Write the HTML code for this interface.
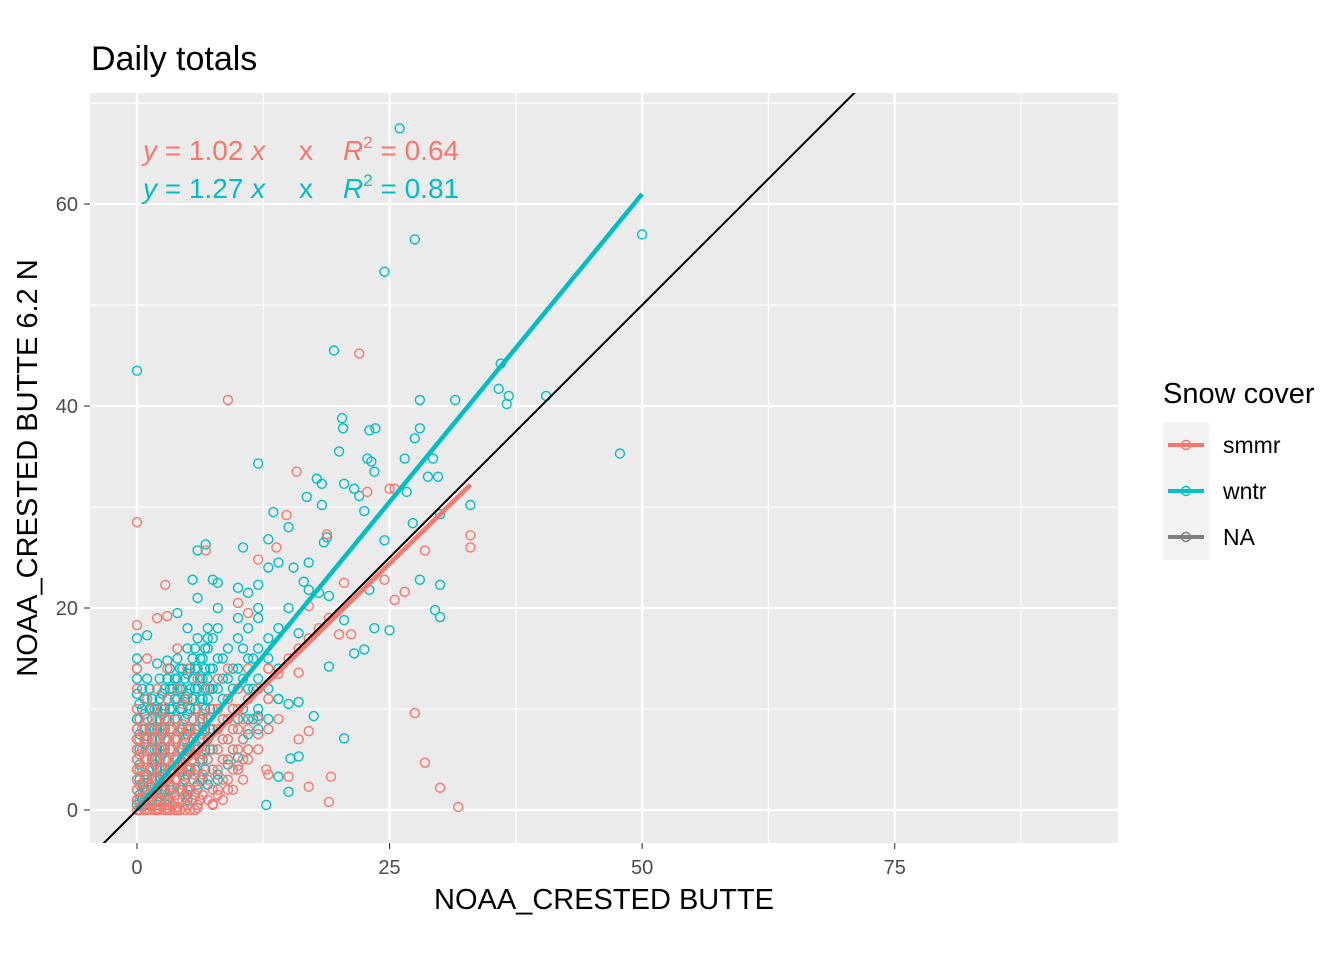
<!DOCTYPE html>
<html><head><meta charset="utf-8"><style>
html,body{margin:0;padding:0;background:#fff;}
svg{display:block;font-family:"Liberation Sans",sans-serif;}
</style></head><body>
<svg id="chart" width="1344" height="960">
<text x="91" y="70" font-size="34" fill="#000">Daily totals</text>
<rect x="90" y="93" width="1028" height="750" fill="#ebebeb"/>
<g id="grid"></g>
<g id="points"></g>
<g id="lines"></g>
<g id="ticks"></g>
<text x="604" y="909" font-size="29" text-anchor="middle">NOAA_CRESTED BUTTE</text>
<text transform="translate(37,468) rotate(-90)" font-size="29" text-anchor="middle">NOAA_CRESTED BUTTE 6.2 N</text>
<text x="143" y="160" font-size="28" fill="#f8766d"><tspan font-style="italic">y</tspan> = 1.02 <tspan font-style="italic">x</tspan><tspan x="299">x</tspan><tspan x="343" font-style="italic">R</tspan><tspan font-size="17" dy="-12">2</tspan><tspan dy="12"> = 0.64</tspan></text>
<text x="143" y="198" font-size="28" fill="#00bfc4"><tspan font-style="italic">y</tspan> = 1.27 <tspan font-style="italic">x</tspan><tspan x="299">x</tspan><tspan x="343" font-style="italic">R</tspan><tspan font-size="17" dy="-12">2</tspan><tspan dy="12"> = 0.81</tspan></text>
<g>
<text x="1163" y="403" font-size="29">Snow cover</text>
<rect x="1163" y="422" width="46" height="138" fill="#f2f2f2"/>
<g><line x1="1168" y1="445" x2="1204" y2="445" stroke="#f8766d" stroke-width="4"/><circle cx="1186" cy="445" r="4.5" fill="none" stroke="#f8766d" stroke-width="1.4"/><text x="1223" y="453" font-size="23">smmr</text></g>
<g><line x1="1168" y1="491" x2="1204" y2="491" stroke="#00bfc4" stroke-width="4"/><circle cx="1186" cy="491" r="4.5" fill="none" stroke="#00bfc4" stroke-width="1.4"/><text x="1223" y="499" font-size="23">wntr</text></g>
<g><line x1="1168" y1="537" x2="1204" y2="537" stroke="#7f7f7f" stroke-width="4"/><circle cx="1186" cy="537" r="4.5" fill="none" stroke="#7f7f7f" stroke-width="1.4"/><text x="1223" y="545" font-size="23">NA</text></g>
</g>
</svg>
<script>
const xTicks=[0,25,50,75];
const yTicks=[0,20,40,60];
const xMinor=[12.5,37.5,62.5,87.5];
const yMinor=[10,30,50,70];
const smmrOutliers=[[0,28.5],[0,18.3],[9,40.6],[22,45.2],[15.8,33.5],[2.8,22.3],[25.5,31.8],[25,31.8],[18.8,27.3],[14.8,29.2],[13.8,26],[6.8,25.7],[12,24.8],[33,27.2],[33,26],[28.5,25.7],[26.5,21.6],[25.5,20.8],[24.5,22.8],[20.5,22.5],[22.8,31.5],[20,17.4],[21.2,17.4],[17,20.2],[16,13.6],[17,7.8],[16,7],[27.5,9.6],[28.5,4.7],[30,2.2],[31.8,0.3],[19.2,3.3],[19,0.8],[17,2.3],[12.8,4],[13,3.5],[15,3.3],[10,4.4],[9,2],[8,1.5],[7.5,0.6],[6,0.2],[5,0.5],[4,0.3],[3,0.2],[2,0.1],[1,0],[2,19],[3,19.2],[4,16],[1,15],[10,20.5],[11,19.5],[13,14],[14,13.5],[15,15],[16,16],[17,17],[18,18],[19,19],[14,9],[12,7.5],[11,6]];
const smmrCluster=[[0,[0,1,2,3,4,5,6,7,8,10,12,14]],[0.5,[0.5,2,4,6,8]],[1,[0,1.5,3,5,7,9,11]],[1.5,[0.5,2,4,6,8,10]],[2,[0,1,3,5,7,9,12]],[2.5,[0.5,2,4,6,8,10]],[3,[0,1.5,3,5,7,9,11,14]],[3.5,[0.5,2,4,6,8]],[4,[0,1,3,5,7,9,12]],[4.5,[1,2.5,4.5,6.5,8.5,10.5]],[5,[0.5,2,4,6,8,11,14]],[5.5,[1,3,5,7,9]],[6,[0.5,2,4,6,8,10,13]],[6.5,[1.5,3.5,5.5,7.5,9.5]],[7,[1,3,5,7,9,12]],[8,[2,4,6,8,10,13]],[9,[3,5,7,9,11,14]],[10,[4,6,8,10,12]],[11,[5,8,11,14]],[12,[6,9,12]],[13,[8,11,14]]];
const smmrCluster2=[[0.25,[0,1,2.5,4,5.5,7,9]],[0.75,[0,1,3,5,7]],[1.25,[0,1,2.5,4,6,8]],[1.75,[0,1.5,3,5,7]],[2.25,[0,1,2.5,4,6,8]],[2.75,[0,1,3,5,7,9]],[3.25,[0,1,2.5,4,6,8]],[3.75,[0,1.5,3,5,7]],[4.25,[0,2,4,6,8]],[4.75,[0,1.5,3.5,5.5,7.5]],[5.25,[0,2,4,6,8]],[5.75,[0,1.5,3.5,5.5,7.5]],[6.25,[1,3,5,7,9]],[7.5,[0.5,2,4,6,8,10]],[8.5,[1,3,5,7,9]],[9.5,[2,4,6,8,10]],[10.5,[3,5,7,9]]];
const wntrOutliers=[[26,67.5],[27.5,56.5],[50,57],[24.5,53.3],[19.5,45.5],[0,43.5],[36,44.2],[35.8,41.7],[36.8,41],[36.6,40.2],[40.5,41],[31.5,40.6],[28,40.6],[47.8,35.3],[20.3,38.8],[20.4,37.8],[23,37.6],[23.6,37.8],[28,37.8],[27.5,36.8],[20,35.5],[12,34.3],[22.8,34.8],[23.2,34.5],[23.5,33.5],[26.5,34.8],[29.3,34.8],[17.8,32.8],[18.3,32.3],[20.5,32.3],[21.5,31.8],[22,31.1],[26.7,31.5],[28.8,33],[29.8,33],[16.8,31],[15,28],[13.5,29.5],[18.3,30.2],[22.5,29.6],[33,30.2],[30,29.3],[27.3,28.4],[18.8,27],[18.5,26.5],[24.5,26.7],[6.8,26.3],[10.5,26],[6,25.7],[13,26.8],[28,22.8],[30,22.3],[29.5,19.8],[30,19.1],[23,21.8],[23.5,18],[25,17.8],[21.5,15.5],[22.5,15.9],[20.5,18.8],[19,14.2],[17.5,9.3],[20.5,7.1],[16,5.3],[15.2,5.1],[15,1.8],[12.8,0.5],[14,3.3],[0,17],[1,17.3],[0,15],[0,14],[3,14.8],[8,22.5],[7.5,22.8],[5.5,22.8],[10,22],[12,22.3],[11,21.5],[15.5,24],[16.5,22.6],[17,24.5],[14,24.5],[13,24],[19,21.2],[18,21.5],[17,21.8],[15,20],[16,17.5],[12,20],[10,19],[8,20],[4,19.5],[5,18],[7,17],[13,11],[14,11],[15,10.5],[12,9.3],[16,10.7],[11,7.5],[10,5.2],[9,4.5],[8,3.5],[6,2.5],[5,1],[3,0.5]];
const wntrCluster=[[0,[0.5,1,2,3,4,5,6,7,8,9,10,11.5,13]],[0.5,[1,2.5,4,6,8,10,12]],[1,[0.5,2,3.5,5,7,9,11,13]],[1.5,[1,3,5,7,9,11]],[2,[0.5,2,4,6,8,10,12,14.5]],[2.5,[1.5,3.5,5.5,7.5,9.5,11.5]],[3,[1,3,5,7,9,11,13]],[3.5,[2,4,6,8,10,12]],[4,[1,3,5,7,9,11,13,15]],[4.5,[2,4,6,8,10,12,14]],[5,[1.5,3.5,5.5,7.5,9.5,11.5,13.5,16]],[5.5,[3,5,7,9,11,13,15]],[6,[2,4,6,8,10,12,14,17,21]],[6.5,[3,5,7,9,11,13,15]],[7,[2.5,5,7,9,11,13,16,18]],[7.5,[4,6,8,10,12,14,17]],[8,[3,6,8,10,12,15,18]],[9,[5,7,9,11,13,16]],[10,[4,6,9,12,14,17]],[11,[6,9,12,15,18]],[12,[8,10,13,16,19]],[13,[9,12,15,17]],[14,[11,14,18]]];
const wntrCluster2=[[0.25,[0,1.5,3,4.5,6,7.5,9,10.5]],[0.75,[0.5,2,3.5,5,6.5,8,9.5,11]],[1.25,[1,2.5,4,6,8,10,12]],[1.75,[1.5,3,4.5,6,8,10]],[2.25,[1,3,5,7,9,11,13]],[2.75,[2,4,6,8,10,12]],[3.25,[2,4,6,8,10,12,14]],[3.75,[3,5,7,9,11,13]],[4.25,[2,4,6,8,10,12,14]],[4.75,[3,5,7,9,11,13]],[5.25,[4,6,8,10,12,14]],[5.75,[4,6,8,10,12,14,16]],[6.25,[5,7,9,11,13,15]],[6.75,[4,6,8,10,12,14,16]],[7.25,[6,8,10,12,14]],[8.5,[5,7,9,11,13,15]],[9.5,[6,8,10,12,14]],[10.5,[7,10,13,16]],[11.5,[9,12,15]]];
const smmrFit=[[0,0],[33,32.2]];
const wntrFit=[[0,0],[50,61]];
const identity=[[-4.65,-4.65],[80,80]];

const NS="http://www.w3.org/2000/svg";
const X0=90,X1=1118,Y0=93,Y1=843;
const xMin=-4.65,xMax=97.1,yMin=-3.27,yMax=71;
function sx(v){return X0+(v-xMin)/(xMax-xMin)*(X1-X0);}
function sy(v){return Y1-(v-yMin)/(yMax-yMin)*(Y1-Y0);}
function mk(tag,attrs,parent){const e=document.createElementNS(NS,tag);for(const k in attrs)e.setAttribute(k,attrs[k]);parent.appendChild(e);return e;}
const grid=document.getElementById('grid'),pts=document.getElementById('points'),lines=document.getElementById('lines'),ticks=document.getElementById('ticks');
xMinor.forEach(v=>{const l=mk('line',{x1:sx(v),x2:sx(v),y1:Y0,y2:Y1,stroke:'#fff','stroke-width':1.1},grid);

});
yMinor.forEach(v=>{const l=mk('line',{x1:X0,x2:X1,y1:sy(v),y2:sy(v),stroke:'#fff','stroke-width':1.1},grid);

});
xTicks.forEach(v=>{const l=mk('line',{x1:sx(v),x2:sx(v),y1:Y0,y2:Y1,stroke:'#fff','stroke-width':2.2},grid);


mk('line',{x1:sx(v),x2:sx(v),y1:Y1,y2:Y1+6,stroke:'#333','stroke-width':1.1},ticks);
const t=mk('text',{x:sx(v),y:Y1+31,'font-size':20,'text-anchor':'middle',fill:'#4d4d4d'},ticks);t.textContent=v;

});
yTicks.forEach(v=>{const l=mk('line',{x1:X0,x2:X1,y1:sy(v),y2:sy(v),stroke:'#fff','stroke-width':2.2},grid);


mk('line',{x1:X0-6,x2:X0,y1:sy(v),y2:sy(v),stroke:'#333','stroke-width':1.1},ticks);
const t=mk('text',{x:X0-12,y:sy(v)+7,'font-size':20,'text-anchor':'end',fill:'#4d4d4d'},ticks);t.textContent=v;

});
function pt(x,y,col,name){const c=mk('circle',{cx:sx(x),cy:sy(y),r:4.5,fill:'none',stroke:col,'stroke-width':1.4},pts);

}
function drawSeries(out,clus,col,name){clus.forEach(clu=>clu.forEach(g=>g[1].forEach(y=>pt(g[0],y,col,name))));out.forEach(p=>pt(p[0],p[1],col,name));}
drawSeries(wntrOutliers,[wntrCluster,wntrCluster2],'#00bfc4','point-wntr');
drawSeries(smmrOutliers,[smmrCluster,smmrCluster2],'#f8766d','point-smmr');
function ln(d,col,w,name){const l=mk('line',{x1:sx(d[0][0]),y1:sy(d[0][1]),x2:sx(d[1][0]),y2:sy(d[1][1]),stroke:col,'stroke-width':w},lines);

}
ln(smmrFit,'#f8766d',4.5,'fit-line-smmr');
ln(wntrFit,'#00bfc4',4.5,'fit-line-wntr');
const cp=mk('clipPath',{id:'pc'},lines);mk('rect',{x:X0,y:Y0,width:X1-X0,height:Y1-Y0},cp);
const id=mk('line',{x1:sx(identity[0][0]),y1:sy(identity[0][1]),x2:sx(identity[1][0]),y2:sy(identity[1][1]),stroke:'#000','stroke-width':2,'clip-path':'url(#pc)'},lines);


</script>
</body></html>
